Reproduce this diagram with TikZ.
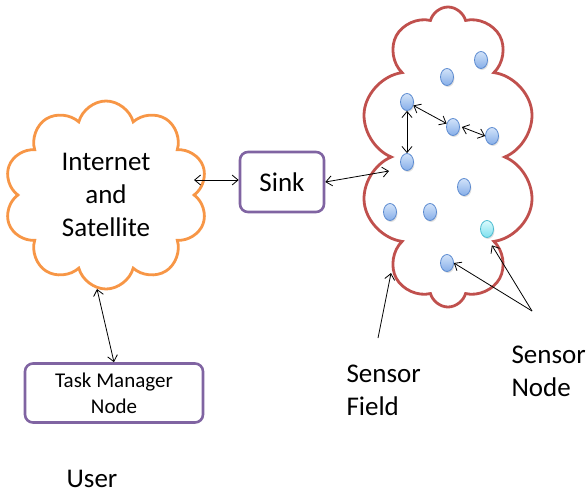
\documentclass[tikz,border=0pt]{standalone}
\usepackage{fontspec}
\setmainfont{Carlito}
\usetikzlibrary{positioning,shapes.symbols,shapes.geometric,arrows.meta,shadows}

\definecolor{netorange}{HTML}{F79646}
\definecolor{fieldred}{HTML}{C0504D}
\definecolor{boxpurple}{HTML}{8064A2}
\definecolor{moteblue}{HTML}{5B8AD0}
\definecolor{motetop}{HTML}{D2E3F9}
\definecolor{motebot}{HTML}{86AEE8}
\definecolor{motecyan}{HTML}{4BBCD0}
\definecolor{cyantop}{HTML}{DAFAFD}
\definecolor{cyanbot}{HTML}{7EE0EE}

\begin{document}
\begin{tikzpicture}[x=1pt, y=-1pt,
  big/.style = {font=\fontsize{27}{33}\selectfont},
  cloudy/.style = {cloud, cloud puffs=#1, cloud ignores aspect, draw,
    line width=2.8pt, align=center, inner sep=0pt},
  box/.style = {draw=boxpurple, line width=2.6pt, rounded corners=8pt,
    align=center},
  mote/.style = {ellipse, minimum width=13pt, minimum height=17pt,
    inner sep=0pt, draw=moteblue, thick, top color=motetop,
    bottom color=motebot, drop shadow={opacity=0.25,
    shadow xshift=1pt, shadow yshift=-1.5pt}},
  arr/.style = {line width=0.8pt, {Straight Barb[length=6pt,width=10pt]}-{Straight Barb[length=6pt,width=10pt]}},
  ptr/.style = {line width=0.8pt, -{Straight Barb[length=6pt,width=10pt]}}
  ]
  \useasboundingbox (0,0) rectangle (588,493);

  % the network side
  \node (net) [cloudy=10, draw=netorange, big, minimum width=204pt,
    minimum height=188pt] at (106,195) {Internet\\and\\Satellite};
  \node (sink) [box, big, minimum width=84pt, minimum height=60pt]
    at (282,182) {Sink};
  \node (task) [box, font=\fontsize{21}{26}\selectfont, minimum width=178pt,
    minimum height=59pt] at (114,393) {Task Manager\\Node};
  \node (user) [big] at (92,479) {User};

  % the sensor field with its motes
  \node (field) [cloudy=10, draw=fieldred, minimum width=176pt,
    minimum height=300pt] at (448,157) {};
  \foreach \n/\x/\y in {1/481/60, 2/447/77, 3/407/102, 4/453/127, 5/492/136,
      6/407/162, 7/464/187, 8/390/212, 9/430/212, 11/447/263}
    \node (s\n) [mote] at (\x,\y) {};
  \node (s10) [mote, draw=motecyan, top color=cyantop, bottom color=cyanbot]
    at (487,229) {};

  \node (fieldlbl) [big, align=left, anchor=west] at (343,390) {Sensor\\Field};
  \node (motelbl) [big, align=left, anchor=west] at (508,371) {Sensor\\Node};
  \coordinate (netout) at (194,180);
  \coordinate (netdown) at (97,289);
  \coordinate (fieldtip) at (389,171);
  \coordinate (fieldedge) at (391,273);
  \coordinate (fieldptr) at (378,338);
  \coordinate (moteptr) at (532,311);

  \draw[arr] (netout) -- (sink.west |- netout);
  \draw[arr] (sink.east) -- (fieldtip);
  \draw[arr] (netdown) -- (task.north);
  \draw[arr] (s3) -- (s6);
  \draw[arr] (s3) -- (s4);
  \draw[arr] ([xshift=2pt]s4.east) -- (s5.west);
  \draw[ptr] (fieldptr) -- (fieldedge);
  \draw[ptr] (moteptr) -- (s11.east);
  \draw[ptr] (moteptr) -- ([yshift=-10pt]s10.south east);
\end{tikzpicture}
\end{document}
